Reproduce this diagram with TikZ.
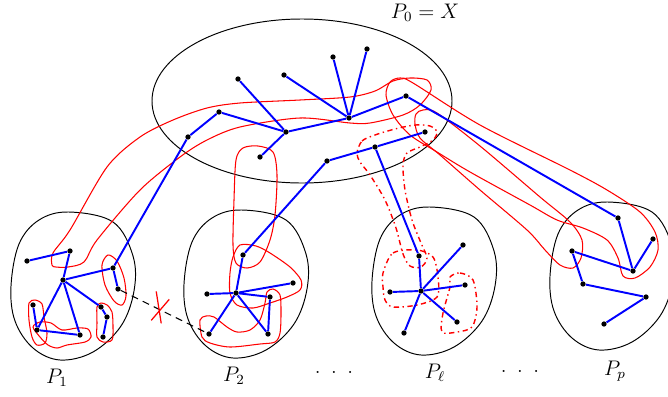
\documentclass[tikz,border=0pt]{standalone}
\usepackage{tikz}

\begin{document}
\begin{tikzpicture}[x=0.02cm, y=-0.02cm,
  dot/.style={circle, fill=black, inner sep=0pt, minimum size=3pt},
  tree/.style={blue, line width=1.1pt},
  outline/.style={black, line width=0.55pt},
  tube/.style={red, line width=0.6pt},
  dashtube/.style={red, line width=0.8pt, dash dot},
  blob/.pic={\draw[outline] plot[smooth cycle, tension=0.6] coordinates {(-4,-74) (40,-64) (60,-30) (61,5) (48,40) (20,66) (-13,74) (-40,62) (-58,35) (-62,0) (-54,-42) (-34,-66)};},
  every node/.style={font=\large}]
\useasboundingbox (0,0) rectangle (668,396);

\draw[outline] (302,101) ellipse [x radius=150, y radius=82];
\pic at (73,286) {blob};
\pic at (246,284) {blob};
\pic at (434,281) {blob};
\pic at (612,276) {blob};

\draw[tube] plot[smooth cycle] coordinates {(52,265) (53,253) (70,230) (107,167) (140,137) (173,120) (207,108) (240,103) (300,100) (350,97) (375,91) (393,81) (410,78) (427,80) (431,90) (420,105) (403,115) (370,123) (350,123) (300,118) (240,127) (207,140) (180,157) (140,190) (97,240) (84,262) (68,267) (56,267)};
\draw[tube] plot[smooth cycle] coordinates {(386,95) (390,82) (400,78) (413,83) (480,125) (570,170) (607,190) (640,212) (655,232) (658,250) (650,267) (635,278) (623,276) (618,258) (607,240) (583,228) (557,220) (530,205) (470,172) (437,152) (410,135) (393,115)};
\draw[tube] plot[smooth cycle] coordinates {(416,114) (423,110) (437,113) (480,146) (540,197) (570,222) (582,240) (581,258) (573,268) (560,265) (545,250) (527,230) (480,190) (440,155) (420,138) (415,124)};
\draw[tube] plot[smooth cycle] coordinates {(243,148) (258,146) (273,152) (277,175) (275,215) (270,240) (260,262) (247,268) (236,263) (233,245) (234,200) (236,160)};
\draw[tube] plot[smooth cycle] coordinates {(240,245) (256,246) (270,253) (290,267) (301,280) (300,290) (287,297) (270,303) (253,308) (237,305) (230,293) (230,273) (233,257)};
\draw[tube] plot[smooth cycle] coordinates {(200,320) (206,316) (214,317) (227,327) (237,332) (250,330) (260,320) (265,303) (267,292) (273,289) (280,295) (281,313) (280,333) (275,342) (260,344) (230,347) (210,343) (202,337)};
\draw[tube] plot[smooth cycle] coordinates {(108,255) (102,265) (105,285) (114,301) (122,305) (126,296) (124,278) (117,261)};
\draw[tube] plot[smooth cycle] coordinates {(29,303) (35,300) (42,304) (44,317) (47,333) (45,343) (37,345) (32,337) (29,320)};
\draw[tube] plot[smooth cycle] coordinates {(33,327) (40,322) (51,323) (62,330) (77,328) (88,329) (91,337) (85,342) (67,345) (57,348) (48,345) (40,337)};
\draw[tube] plot[smooth cycle] coordinates {(97,307) (101,303) (107,305) (112,312) (113,327) (112,340) (103,342) (97,337) (97,323)};
\draw[dashtube] plot[smooth cycle] coordinates {(357,153) (362,141) (375,135) (395,129) (415,125) (430,126) (437,132) (433,140) (420,147) (407,153) (403,165) (405,190) (412,220) (421,243) (427,258) (421,267) (410,266) (403,254) (396,228) (385,200) (370,175) (360,162)};
\draw[dashtube] plot[smooth cycle] coordinates {(383,273) (393,253) (417,250) (433,257) (438,277) (437,297) (417,305) (393,307) (385,300) (383,287)};
\draw[dashtube] plot[smooth cycle] coordinates {(450,277) (460,273) (473,280) (477,307) (472,327) (457,332) (442,332) (443,313) (450,287)};

\node[dot] (a1) at (238,79) {};
\node[dot] (a2) at (284,75) {};
\node[dot] (a3) at (333,57) {};
\node[dot] (a4) at (367,49) {};
\node[dot] (h) at (349,118) {};
\node[dot] (c) at (286,132) {};
\node[dot] (b1) at (219,112) {};
\node[dot] (b2) at (188,137) {};
\node[dot] (d) at (260,157) {};
\node[dot] (r) at (406,96) {};
\node[dot] (e1) at (327,161) {};
\node[dot] (e2) at (375,147) {};
\node[dot] (e3) at (425,132) {};

\node[dot] (p1a) at (27,261) {};
\node[dot] (p1b) at (70,251) {};
\node[dot] (p1c) at (63,280) {};
\node[dot] (p1d) at (113,268) {};
\node[dot] (p1e) at (118,289) {};
\node[dot] (p1f) at (33,305) {};
\node[dot] (p1g) at (37,330) {};
\node[dot] (p1h) at (80,335) {};
\node[dot] (p1i) at (101,307) {};
\node[dot] (p1j) at (107,317) {};
\node[dot] (p1k) at (103,337) {};

\node[dot] (u1) at (243,255) {};
\node[dot] (u2) at (207,294) {};
\node[dot] (u3) at (236,293) {};
\node[dot] (u4) at (293,283) {};
\node[dot] (u5) at (270,297) {};
\node[dot] (u6) at (268,334) {};
\node[dot] (u7) at (209,334) {};

\node[dot] (v1) at (419,256) {};
\node[dot] (v2) at (463,245) {};
\node[dot] (v3) at (421,291) {};
\node[dot] (v4) at (390,292) {};
\node[dot] (v5) at (465,285) {};
\node[dot] (v6) at (457,322) {};
\node[dot] (v7) at (404,333) {};

\node[dot] (q1) at (618,218) {};
\node[dot] (q2) at (653,239) {};
\node[dot] (q3) at (633,271) {};
\node[dot] (q4) at (572,251) {};
\node[dot] (q5) at (583,284) {};
\node[dot] (q6) at (646,297) {};
\node[dot] (q7) at (604,324) {};

\draw[tree] (a1) -- (c) (b1) -- (c) (b1) -- (b2) (c) -- (h) (c) -- (d) (a2) -- (h) (a3) -- (h) (a4) -- (h) (h) -- (r) (e1) -- (e2) (e2) -- (e3);
\draw[tree] (b2) -- (p1d) (e1) -- (u1) (e2) -- (v1) (r) -- (q1);
\draw[tree] (p1a) -- (p1b) (p1b) -- (p1c) (p1c) -- (p1d) (p1d) -- (p1e) (p1c) -- (p1g) (p1c) -- (p1h) (p1c) -- (p1i) (p1f) -- (p1g) (p1g) -- (p1h) (p1i) -- (p1j) (p1j) -- (p1k);
\draw[tree] (u1) -- (u3) (u2) -- (u3) (u3) -- (u4) (u3) -- (u5) (u5) -- (u6) (u3) -- (u6) (u3) -- (u7);
\draw[tree] (v1) -- (v3) (v2) -- (v3) (v4) -- (v3) (v5) -- (v3) (v6) -- (v3) (v7) -- (v3);
\draw[tree] (q1) -- (q3) (q2) -- (q3) (q4) -- (q3) (q4) -- (q5) (q5) -- (q6) (q6) -- (q7);

\draw[dashed, line width=0.6pt, dash pattern=on 4pt off 3pt] (p1e) -- (u7) coordinate[pos=0.45] (cut);
\draw[red, line width=0.7pt] (cut) ++(-8,11) -- ++(18,-21);
\draw[red, line width=0.7pt] (cut) ++(-3,-18) -- ++(5,32);

\node (l0) at (425,13) {$P_0 = X$};
\node (l1) at (57,378) {$P_1$};
\node (l2) at (234,376) {$P_2$};
\node (l3) at (435,373) {$P_\ell$};
\node (l4) at (615,371) {$P_p$};
\node (dd1) at (334,372) {$.\enspace.\enspace.$};
\node (dd2) at (520,371) {$.\enspace.\enspace.$};
\end{tikzpicture}
\end{document}
